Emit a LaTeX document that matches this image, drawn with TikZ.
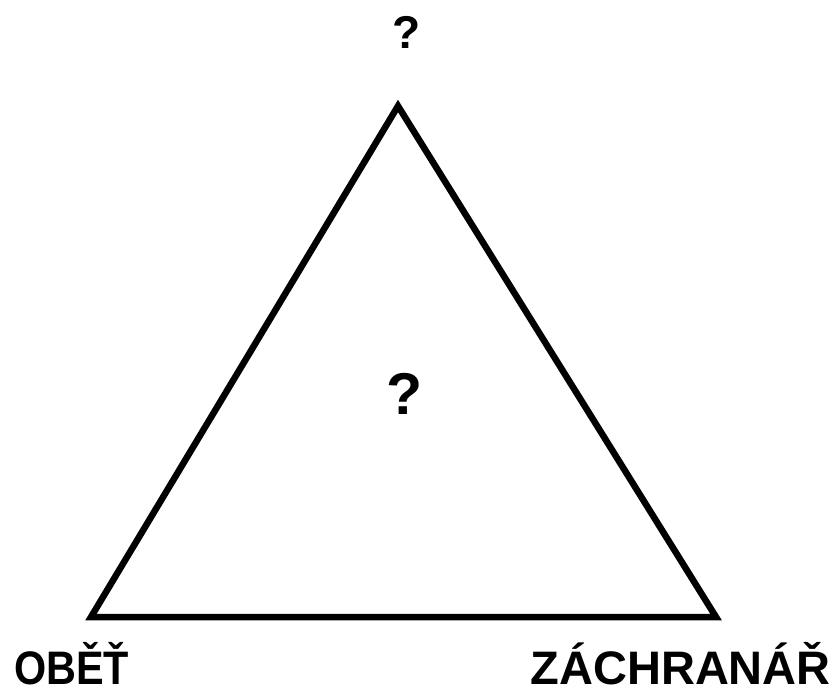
\documentclass[tikz,border=0pt]{standalone}
\usepackage{fontspec}
\setmainfont{Liberation Sans}
\usepackage{graphicx}
\usepackage{tikz}
\usetikzlibrary{positioning}

\begin{document}
\begin{tikzpicture}[x=1pt,y=-1pt,font=\bfseries]
  \tikzstyle{side}=[draw,line width=6.5pt]
  \tikzstyle{role}=[inner sep=0pt,font=\bfseries\fontsize{47}{47}\selectfont]
  \tikzstyle{ask}=[inner sep=0pt]
  \useasboundingbox (0,0) rectangle (835,695);
  \coordinate (top) at (398,106);
  \coordinate (obet) at (91,617);
  \coordinate (zach) at (716,617);
  \draw[side] (top) -- (obet) -- (zach) -- cycle;
  \node[ask,font=\bfseries\fontsize{46}{46}\selectfont] (qtop) at (407,32) {?};
  \node[ask,font=\bfseries\fontsize{59}{59}\selectfont] (qmid) at (405,394) {?};
  \node[role,anchor=base west] (victim) at (14,684) {\scalebox{0.88}[1]{OBĚŤ}};
  \node[role,anchor=base east] (rescuer) at (831,684) {ZÁCHRANÁŘ};
\end{tikzpicture}
\end{document}
